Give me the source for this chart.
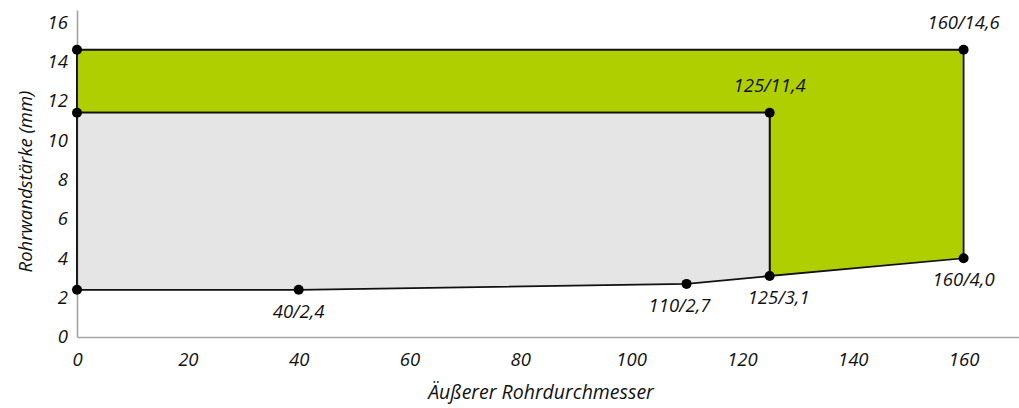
<!DOCTYPE html>
<html lang="de">
  <head>
    <meta charset="UTF-8" />
    <title>Rohrwandstärke</title>
    <style>
      body { margin: 0; background: #fff; }
      text { font-family: "Open Sans", sans-serif; font-style: italic; fill: #111; }
    </style>
  </head>
  <body>
    <script src="https://d3js.org/d3.v7.min.js"></script>
    <script>
      // outer diameter / wall thickness of the two areas
      const greenX = [0, 160, 160, 125, 125, 0];
      const greenY = [14.6, 14.6, 4.0, 3.1, 11.4, 11.4];
      const grayX = [0, 125, 125, 110, 40, 0];
      const grayY = [11.4, 11.4, 3.1, 2.7, 2.4, 2.4];

      // marked points, with labels on some of them
      const dotX = [0, 0, 0, 40, 110, 125, 160, 125, 160];
      const dotY = [14.6, 11.4, 2.4, 2.4, 2.7, 3.1, 4.0, 11.4, 14.6];
      const labelX = [40, 110, 125, 160, 125, 160];
      const labelY = [2.4, 2.7, 3.1, 4.0, 11.4, 14.6];

      const xTicks = [0, 20, 40, 60, 80, 100, 120, 140, 160];
      const yTicks = [0, 2, 4, 6, 8, 10, 12, 14, 16];

      const xTitle = "Äußerer Rohrdurchmesser";
      const yTitle = "Rohrwandstärke (mm)";

      function makeChart() {
        const width = 1019;
        const height = 408;
        const margin = { top: 10, right: 0, bottom: 71, left: 77 };

        const svg = d3
          .select("body")
          .append("svg")
          .attr("width", width)
          .attr("height", height);

        const xScale = d3
          .scaleLinear()
          .domain([0, 170])
          .range([margin.left, width - margin.right]);

        const yScale = d3
          .scaleLinear()
          .domain([0, 16.62])
          .range([height - margin.bottom, margin.top]);

        const xAxis = d3
          .axisBottom(xScale)
          .tickValues(xTicks)
          .tickSize(0)
          .tickPadding(16)
          .tickFormat(d3.format("d"));
        const yAxis = d3
          .axisLeft(yScale)
          .tickValues(yTicks)
          .tickSize(0)
          .tickPadding(9)
          .tickFormat(d3.format("d"));

        const styleAxis = (g) => {
          g.select(".domain").attr("stroke", "#a3a3a3").attr("stroke-width", 1.6);
          g.selectAll(".tick text")
            .attr("font-family", null)
            .attr("font-size", 18.5)
            .attr("fill", "#111");
        };

        const line = d3
          .line()
          .x((d) => xScale(d[0]))
          .y((d) => yScale(d[1]));

        const green = greenX.map((x, i) => [x, greenY[i]]);
        const gray = grayX.map((x, i) => [x, grayY[i]]);

        svg
          .append("path")
          .attr("d", line(green) + "Z")
          .attr("fill", "#b0cf00")
          .attr("stroke", "#111")
          .attr("stroke-width", 1.8);

        svg
          .append("path")
          .attr("d", line(gray) + "Z")
          .attr("fill", "#e5e5e5")
          .attr("stroke", "#111")
          .attr("stroke-width", 1.8);

        svg
          .append("g")
          .attr("transform", `translate(0, ${yScale(0)})`)
          .call(xAxis)
          .call(styleAxis);

        svg
          .append("g")
          .attr("transform", `translate(${xScale(0)}, 0)`)
          .call(yAxis)
          .call(styleAxis);

        // redraw left border over the axis line
        svg
          .append("line")
          .attr("x1", xScale(0))
          .attr("x2", xScale(0))
          .attr("y1", yScale(14.6))
          .attr("y2", yScale(2.4))
          .attr("stroke", "#111")
          .attr("stroke-width", 1.8);

        svg
          .append("g")
          .selectAll("circle")
          .data(dotX.map((x, i) => [x, dotY[i]]))
          .join("circle")
          .attr("cx", (d) => xScale(d[0]))
          .attr("cy", (d) => yScale(d[1]))
          .attr("r", 5)
          .attr("fill", "#000");

        // labels of close neighbours are pushed apart a little
        const fmt = (v) => v.toFixed(1).replace(".", ",");
        const pts = labelX.map((x, i) => [x, labelY[i]]);
        svg
          .append("g")
          .selectAll("text")
          .data(pts)
          .join("text")
          .attr("x", (d) => {
            const near = pts.find(
              (p) => p !== d && Math.abs(p[0] - d[0]) < 20 && Math.abs(p[1] - d[1]) < 1
            );
            const shift = near ? (near[0] > d[0] ? -7 : 9) : 0;
            return xScale(d[0]) + shift;
          })
          .attr("y", (d) => yScale(d[1]) + (d[1] > 10 ? -21 : 28))
          .attr("text-anchor", "middle")
          .attr("font-size", 18.5)
          .text((d) => `${d[0]}/${fmt(d[1])}`);

        svg
          .append("text")
          .attr("x", 541)
          .attr("y", 399)
          .attr("text-anchor", "middle")
          .attr("font-size", 19.5)
          .text(xTitle);

        svg
          .append("text")
          .attr("transform", `translate(32, ${yScale(7.9)}) rotate(-90)`)
          .attr("text-anchor", "middle")
          .attr("font-size", 18.5)
          .text(yTitle);
      }
      makeChart();
    </script>
  </body>
</html>
